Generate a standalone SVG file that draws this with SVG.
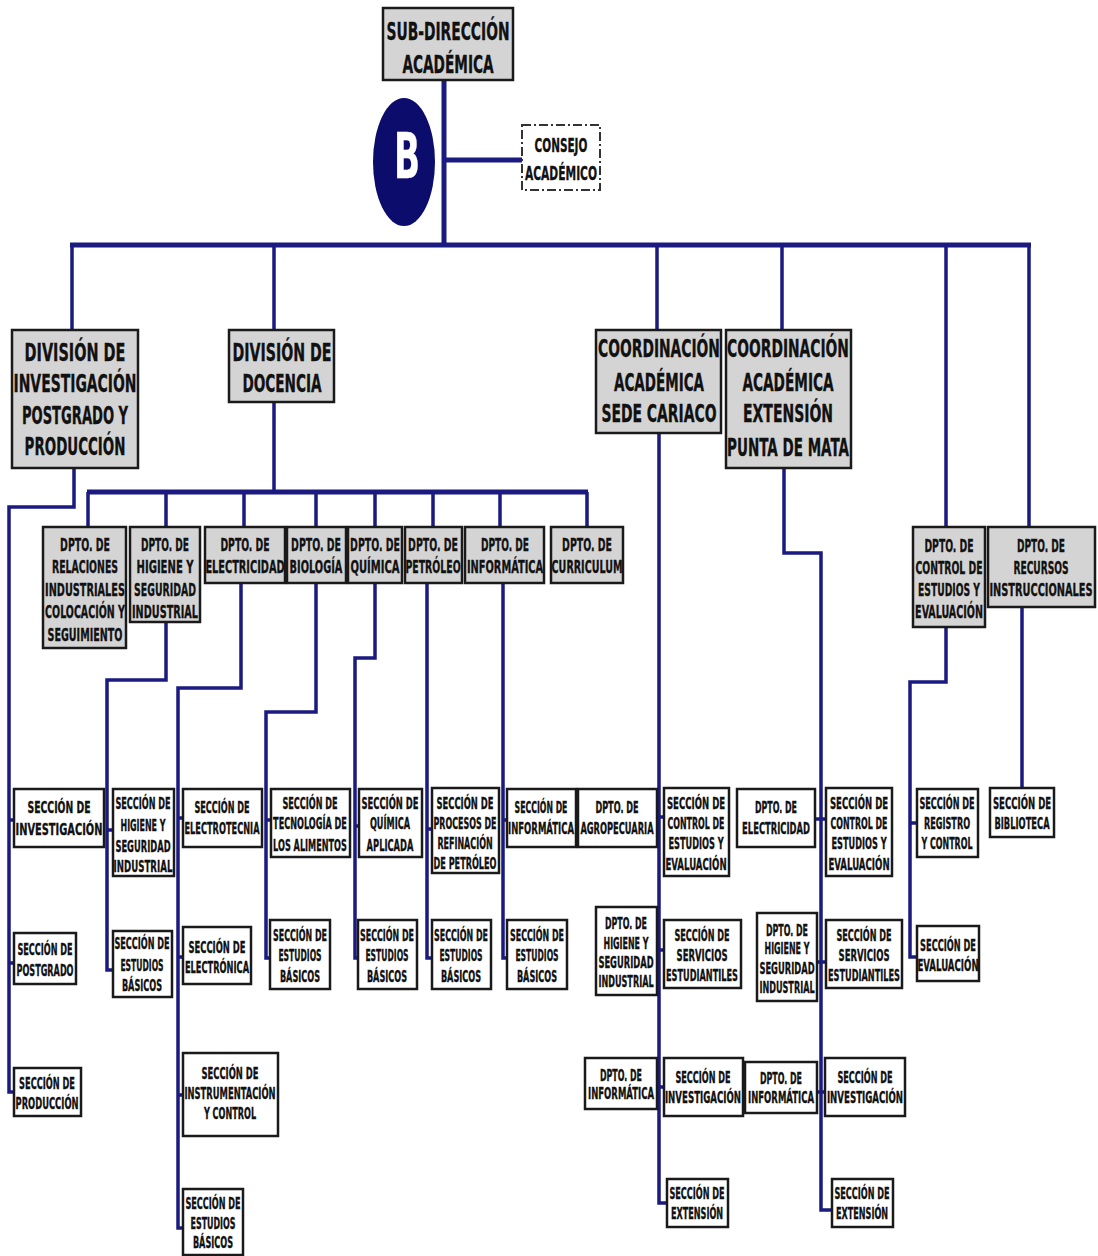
<svg xmlns="http://www.w3.org/2000/svg" width="1098" height="1256" viewBox="0 0 1098 1256">
<style>
text{font-family:"DejaVu Sans Condensed","DejaVu Sans",sans-serif;font-weight:bold;fill:#111;stroke:#111;stroke-width:0.35;text-anchor:middle;font-stretch:condensed}
.hd{fill:#d4d4d4;stroke:#1a1a1a;stroke-width:2.5}
.sc{fill:#fff;stroke:#1a1a1a;stroke-width:2.5}
.cs{fill:#fff;stroke:#333;stroke-width:2;stroke-dasharray:9 3 2 3}
.t1{font-size:24px}
.t2{font-size:18px}
.t3{font-size:16.5px}
.ln{fill:none;stroke:#1a1a80;stroke-width:3.5}
.bus{fill:none;stroke:#1a1a80;stroke-width:5}
</style>
<rect width="1098" height="1256" fill="#fff"/>
<g id="connectors">
<path class="bus" d="M444 80V245M445 160H522M70 245H1031M87 492H588"/>
<path class="ln" d="M72 245V330M274 245V330M657 245V330M782 245V330M946 245V527M1029 245V527"/>
<path class="ln" d="M74 468V507H9V1092H14M9 820H14M9 963H14"/>
<path class="ln" d="M274 402V492M88 492V527M166 492V527M244 492V527M316 492V527M375 492V527M433 492V527M500 492V527M587 492V527"/>
<path class="ln" d="M166 622V680H107V970H113M107 830H113"/>
<path class="ln" d="M241 583V688H178V1228H183M178 818H183M178 957H183M178 1095H183"/>
<path class="ln" d="M316 583V712H266V958H270M266 820H271"/>
<path class="ln" d="M375 583V658H355V958H358M355 826H359"/>
<path class="ln" d="M427 583V958H432M427 829H432"/>
<path class="ln" d="M503 583V958H507M503 820H507"/>
<path class="ln" d="M659 433V1203H667M657 817H664M657 950H664M657 1087H664"/>
<path class="ln" d="M784 468V553H821V1210H832M815 819H826M817 962H826M817 1092H825"/>
<path class="ln" d="M946 627V682H910V957H917M910 823H917"/>
<path class="ln" d="M1022 607V788"/>
</g>
<g id="sub-direccion"><rect class="hd" x="383" y="8" width="130" height="72"/><g transform="translate(448 0) scale(.6 1)"><text class="t1" y="40" textLength="205" lengthAdjust="spacingAndGlyphs">SUB-DIRECCIÓN</text><text class="t1" y="73" textLength="152" lengthAdjust="spacingAndGlyphs">ACADÉMICA</text></g></g>
<g id="logo-b"><ellipse cx="404" cy="162" rx="31" ry="64" fill="#0c0c6c"/><text transform="translate(407 178) scale(.5 1)" style="font-size:62px;fill:#fff;stroke:#fff" textLength="52" lengthAdjust="spacingAndGlyphs">B</text></g>
<g id="consejo"><rect class="cs" x="522" y="125" width="78" height="65"/><g transform="translate(561 0) scale(.6 1)"><text y="152" style="font-size:20px" textLength="88" lengthAdjust="spacingAndGlyphs">CONSEJO</text><text y="180" style="font-size:20px" textLength="120" lengthAdjust="spacingAndGlyphs">ACADÉMICO</text></g></g>
<g id="div-inv"><rect class="hd" x="12" y="330" width="126" height="138"/><g transform="translate(75 0) scale(.6 1)"><text class="t1" y="361" textLength="168" lengthAdjust="spacingAndGlyphs">DIVISIÓN DE</text><text class="t1" y="392" textLength="205" lengthAdjust="spacingAndGlyphs">INVESTIGACIÓN</text><text class="t1" y="424" textLength="177" lengthAdjust="spacingAndGlyphs">POSTGRADO Y</text><text class="t1" y="455" textLength="168" lengthAdjust="spacingAndGlyphs">PRODUCCIÓN</text></g></g>
<g id="div-doc"><rect class="hd" x="229" y="330" width="105" height="72"/><g transform="translate(282 0) scale(.6 1)"><text class="t1" y="361" textLength="165" lengthAdjust="spacingAndGlyphs">DIVISIÓN DE</text><text class="t1" y="392" textLength="132" lengthAdjust="spacingAndGlyphs">DOCENCIA</text></g></g>
<g id="coord-cariaco"><rect class="hd" x="596" y="330" width="125" height="103"/><g transform="translate(659 0) scale(.6 1)"><text class="t1" y="357" textLength="203" lengthAdjust="spacingAndGlyphs">COORDINACIÓN</text><text class="t1" y="391" textLength="150" lengthAdjust="spacingAndGlyphs">ACADÉMICA</text><text class="t1" y="422" textLength="192" lengthAdjust="spacingAndGlyphs">SEDE CARIACO</text></g></g>
<g id="coord-pm"><rect class="hd" x="726" y="330" width="125" height="138"/><g transform="translate(788 0) scale(.6 1)"><text class="t1" y="357" textLength="203" lengthAdjust="spacingAndGlyphs">COORDINACIÓN</text><text class="t1" y="391" textLength="152" lengthAdjust="spacingAndGlyphs">ACADÉMICA</text><text class="t1" y="422" textLength="150" lengthAdjust="spacingAndGlyphs">EXTENSIÓN</text><text class="t1" y="456" textLength="203" lengthAdjust="spacingAndGlyphs">PUNTA DE MATA</text></g></g>
<g id="dpto-relaciones"><rect class="hd" x="43" y="527" width="83" height="121"/><g transform="translate(85 0) scale(.6 1)"><text class="t2" y="551" textLength="83" lengthAdjust="spacingAndGlyphs">DPTO. DE</text><text class="t2" y="573" textLength="110" lengthAdjust="spacingAndGlyphs">RELACIONES</text><text class="t2" y="596" textLength="133" lengthAdjust="spacingAndGlyphs">INDUSTRIALES</text><text class="t2" y="618" textLength="133" lengthAdjust="spacingAndGlyphs">COLOCACIÓN Y</text><text class="t2" y="641" textLength="125" lengthAdjust="spacingAndGlyphs">SEGUIMIENTO</text></g></g>
<g id="dpto-higiene"><rect class="hd" x="130" y="527" width="70" height="95"/><g transform="translate(165 0) scale(.6 1)"><text class="t2" y="551" textLength="80" lengthAdjust="spacingAndGlyphs">DPTO. DE</text><text class="t2" y="573" textLength="95" lengthAdjust="spacingAndGlyphs">HIGIENE Y</text><text class="t2" y="596" textLength="103" lengthAdjust="spacingAndGlyphs">SEGURIDAD</text><text class="t2" y="618" textLength="110" lengthAdjust="spacingAndGlyphs">INDUSTRIAL</text></g></g>
<g id="dpto-electricidad"><rect class="hd" x="205" y="527" width="80" height="56"/><g transform="translate(245 0) scale(.6 1)"><text class="t2" y="551" textLength="82" lengthAdjust="spacingAndGlyphs">DPTO. DE</text><text class="t2" y="573" textLength="132" lengthAdjust="spacingAndGlyphs">ELECTRICIDAD</text></g></g>
<g id="dpto-biologia"><rect class="hd" x="287" y="527" width="59" height="56"/><g transform="translate(316 0) scale(.6 1)"><text class="t2" y="551" textLength="83" lengthAdjust="spacingAndGlyphs">DPTO. DE</text><text class="t2" y="573" textLength="88" lengthAdjust="spacingAndGlyphs">BIOLOGÍA</text></g></g>
<g id="dpto-quimica"><rect class="hd" x="348" y="527" width="54" height="56"/><g transform="translate(375 0) scale(.6 1)"><text class="t2" y="551" textLength="83" lengthAdjust="spacingAndGlyphs">DPTO. DE</text><text class="t2" y="573" textLength="82" lengthAdjust="spacingAndGlyphs">QUÍMICA</text></g></g>
<g id="dpto-petroleo"><rect class="hd" x="405" y="527" width="57" height="56"/><g transform="translate(433 0) scale(.6 1)"><text class="t2" y="551" textLength="83" lengthAdjust="spacingAndGlyphs">DPTO. DE</text><text class="t2" y="573" textLength="92" lengthAdjust="spacingAndGlyphs">PETRÓLEO</text></g></g>
<g id="dpto-informatica"><rect class="hd" x="465" y="527" width="79" height="56"/><g transform="translate(505 0) scale(.6 1)"><text class="t2" y="551" textLength="80" lengthAdjust="spacingAndGlyphs">DPTO. DE</text><text class="t2" y="573" textLength="127" lengthAdjust="spacingAndGlyphs">INFORMÁTICA</text></g></g>
<g id="dpto-curriculum"><rect class="hd" x="551" y="527" width="72" height="56"/><g transform="translate(587 0) scale(.6 1)"><text class="t2" y="551" textLength="83" lengthAdjust="spacingAndGlyphs">DPTO. DE</text><text class="t2" y="573" textLength="118" lengthAdjust="spacingAndGlyphs">CURRICULUM</text></g></g>
<g id="dpto-control"><rect class="hd" x="913" y="527" width="72" height="100"/><g transform="translate(949 0) scale(.6 1)"><text class="t2" y="552" textLength="82" lengthAdjust="spacingAndGlyphs">DPTO. DE</text><text class="t2" y="574" textLength="112" lengthAdjust="spacingAndGlyphs">CONTROL DE</text><text class="t2" y="596" textLength="103" lengthAdjust="spacingAndGlyphs">ESTUDIOS Y</text><text class="t2" y="618" textLength="113" lengthAdjust="spacingAndGlyphs">EVALUACIÓN</text></g></g>
<g id="dpto-recursos"><rect class="hd" x="988" y="527" width="107" height="80"/><g transform="translate(1041 0) scale(.6 1)"><text class="t2" y="552" textLength="80" lengthAdjust="spacingAndGlyphs">DPTO. DE</text><text class="t2" y="574" textLength="92" lengthAdjust="spacingAndGlyphs">RECURSOS</text><text class="t2" y="596" textLength="172" lengthAdjust="spacingAndGlyphs">INSTRUCCIONALES</text></g></g>
<g id="sec-investigacion"><rect class="sc" x="14" y="789" width="90" height="58"/><g transform="translate(59 0) scale(.6 1)"><text class="t3" y="813" textLength="105" lengthAdjust="spacingAndGlyphs">SECCIÓN DE</text><text class="t3" y="835" textLength="145" lengthAdjust="spacingAndGlyphs">INVESTIGACIÓN</text></g></g>
<g id="sec-postgrado"><rect class="sc" x="14" y="933" width="62" height="51"/><g transform="translate(45 0) scale(.6 1)"><text class="t3" y="955" textLength="92" lengthAdjust="spacingAndGlyphs">SECCIÓN DE</text><text class="t3" y="976" textLength="95" lengthAdjust="spacingAndGlyphs">POSTGRADO</text></g></g>
<g id="sec-produccion"><rect class="sc" x="14" y="1068" width="67" height="48"/><g transform="translate(47 0) scale(.6 1)"><text class="t3" y="1089" textLength="93" lengthAdjust="spacingAndGlyphs">SECCIÓN DE</text><text class="t3" y="1109" textLength="105" lengthAdjust="spacingAndGlyphs">PRODUCCIÓN</text></g></g>
<g id="sec-higiene"><rect class="sc" x="113" y="789" width="61" height="87"/><g transform="translate(143 0) scale(.6 1)"><text class="t3" y="809" textLength="92" lengthAdjust="spacingAndGlyphs">SECCIÓN DE</text><text class="t3" y="831" textLength="75" lengthAdjust="spacingAndGlyphs">HIGIENE Y</text><text class="t3" y="852" textLength="92" lengthAdjust="spacingAndGlyphs">SEGURIDAD</text><text class="t3" y="872" textLength="98" lengthAdjust="spacingAndGlyphs">INDUSTRIAL</text></g></g>
<g id="sec-basicos-higiene"><rect class="sc" x="113" y="931" width="59" height="66"/><g transform="translate(142 0) scale(.6 1)"><text class="t3" y="949" textLength="92" lengthAdjust="spacingAndGlyphs">SECCIÓN DE</text><text class="t3" y="971" textLength="72" lengthAdjust="spacingAndGlyphs">ESTUDIOS</text><text class="t3" y="991" textLength="67" lengthAdjust="spacingAndGlyphs">BÁSICOS</text></g></g>
<g id="sec-electrotecnia"><rect class="sc" x="183" y="789" width="79" height="58"/><g transform="translate(222 0) scale(.6 1)"><text class="t3" y="813" textLength="92" lengthAdjust="spacingAndGlyphs">SECCIÓN DE</text><text class="t3" y="834" textLength="125" lengthAdjust="spacingAndGlyphs">ELECTROTECNIA</text></g></g>
<g id="sec-electronica"><rect class="sc" x="183" y="927" width="68" height="57"/><g transform="translate(217 0) scale(.6 1)"><text class="t3" y="953" textLength="95" lengthAdjust="spacingAndGlyphs">SECCIÓN DE</text><text class="t3" y="973" textLength="107" lengthAdjust="spacingAndGlyphs">ELECTRÓNICA</text></g></g>
<g id="sec-instrumentacion"><rect class="sc" x="183" y="1053" width="95" height="83"/><g transform="translate(230 0) scale(.6 1)"><text class="t3" y="1079" textLength="95" lengthAdjust="spacingAndGlyphs">SECCIÓN DE</text><text class="t3" y="1099" textLength="152" lengthAdjust="spacingAndGlyphs">INSTRUMENTACIÓN</text><text class="t3" y="1119" textLength="87" lengthAdjust="spacingAndGlyphs">Y CONTROL</text></g></g>
<g id="sec-basicos-electricidad"><rect class="sc" x="183" y="1189" width="60" height="66"/><g transform="translate(213 0) scale(.6 1)"><text class="t3" y="1209" textLength="92" lengthAdjust="spacingAndGlyphs">SECCIÓN DE</text><text class="t3" y="1229" textLength="75" lengthAdjust="spacingAndGlyphs">ESTUDIOS</text><text class="t3" y="1248" textLength="67" lengthAdjust="spacingAndGlyphs">BÁSICOS</text></g></g>
<g id="sec-alimentos"><rect class="sc" x="271" y="789" width="79" height="68"/><g transform="translate(310 0) scale(.6 1)"><text class="t3" y="809" textLength="92" lengthAdjust="spacingAndGlyphs">SECCIÓN DE</text><text class="t3" y="829" textLength="123" lengthAdjust="spacingAndGlyphs">TECNOLOGÍA DE</text><text class="t3" y="851" textLength="123" lengthAdjust="spacingAndGlyphs">LOS ALIMENTOS</text></g></g>
<g id="sec-basicos-biologia"><rect class="sc" x="270" y="920" width="60" height="69"/><g transform="translate(300 0) scale(.6 1)"><text class="t3" y="941" textLength="90" lengthAdjust="spacingAndGlyphs">SECCIÓN DE</text><text class="t3" y="961" textLength="72" lengthAdjust="spacingAndGlyphs">ESTUDIOS</text><text class="t3" y="982" textLength="67" lengthAdjust="spacingAndGlyphs">BÁSICOS</text></g></g>
<g id="sec-quimica-aplicada"><rect class="sc" x="359" y="789" width="63" height="68"/><g transform="translate(390 0) scale(.6 1)"><text class="t3" y="809" textLength="95" lengthAdjust="spacingAndGlyphs">SECCIÓN DE</text><text class="t3" y="829" textLength="67" lengthAdjust="spacingAndGlyphs">QUÍMICA</text><text class="t3" y="851" textLength="78" lengthAdjust="spacingAndGlyphs">APLICADA</text></g></g>
<g id="sec-basicos-quimica"><rect class="sc" x="358" y="920" width="59" height="69"/><g transform="translate(387 0) scale(.6 1)"><text class="t3" y="941" textLength="90" lengthAdjust="spacingAndGlyphs">SECCIÓN DE</text><text class="t3" y="961" textLength="72" lengthAdjust="spacingAndGlyphs">ESTUDIOS</text><text class="t3" y="982" textLength="67" lengthAdjust="spacingAndGlyphs">BÁSICOS</text></g></g>
<g id="sec-refinacion"><rect class="sc" x="432" y="788" width="67" height="85"/><g transform="translate(465 0) scale(.6 1)"><text class="t3" y="809" textLength="95" lengthAdjust="spacingAndGlyphs">SECCIÓN DE</text><text class="t3" y="829" textLength="105" lengthAdjust="spacingAndGlyphs">PROCESOS DE</text><text class="t3" y="849" textLength="92" lengthAdjust="spacingAndGlyphs">REFINACIÓN</text><text class="t3" y="869" textLength="105" lengthAdjust="spacingAndGlyphs">DE PETRÓLEO</text></g></g>
<g id="sec-basicos-petroleo"><rect class="sc" x="432" y="920" width="59" height="69"/><g transform="translate(461 0) scale(.6 1)"><text class="t3" y="941" textLength="90" lengthAdjust="spacingAndGlyphs">SECCIÓN DE</text><text class="t3" y="961" textLength="72" lengthAdjust="spacingAndGlyphs">ESTUDIOS</text><text class="t3" y="982" textLength="67" lengthAdjust="spacingAndGlyphs">BÁSICOS</text></g></g>
<g id="sec-informatica"><rect class="sc" x="507" y="789" width="69" height="58"/><g transform="translate(541 0) scale(.6 1)"><text class="t3" y="813" textLength="88" lengthAdjust="spacingAndGlyphs">SECCIÓN DE</text><text class="t3" y="834" textLength="110" lengthAdjust="spacingAndGlyphs">INFORMÁTICA</text></g></g>
<g id="sec-basicos-informatica"><rect class="sc" x="507" y="920" width="60" height="69"/><g transform="translate(537 0) scale(.6 1)"><text class="t3" y="941" textLength="90" lengthAdjust="spacingAndGlyphs">SECCIÓN DE</text><text class="t3" y="961" textLength="72" lengthAdjust="spacingAndGlyphs">ESTUDIOS</text><text class="t3" y="982" textLength="67" lengthAdjust="spacingAndGlyphs">BÁSICOS</text></g></g>
<g id="car-agropecuaria"><rect class="sc" x="578" y="789" width="79" height="58"/><g transform="translate(617 0) scale(.6 1)"><text class="t3" y="813" textLength="72" lengthAdjust="spacingAndGlyphs">DPTO. DE</text><text class="t3" y="834" textLength="122" lengthAdjust="spacingAndGlyphs">AGROPECUARIA</text></g></g>
<g id="car-control"><rect class="sc" x="664" y="788" width="65" height="88"/><g transform="translate(696 0) scale(.6 1)"><text class="t3" y="809" textLength="97" lengthAdjust="spacingAndGlyphs">SECCIÓN DE</text><text class="t3" y="829" textLength="95" lengthAdjust="spacingAndGlyphs">CONTROL DE</text><text class="t3" y="849" textLength="92" lengthAdjust="spacingAndGlyphs">ESTUDIOS Y</text><text class="t3" y="870" textLength="102" lengthAdjust="spacingAndGlyphs">EVALUACIÓN</text></g></g>
<g id="car-higiene"><rect class="sc" x="596" y="907" width="61" height="88"/><g transform="translate(626 0) scale(.6 1)"><text class="t3" y="929" textLength="70" lengthAdjust="spacingAndGlyphs">DPTO. DE</text><text class="t3" y="949" textLength="75" lengthAdjust="spacingAndGlyphs">HIGIENE Y</text><text class="t3" y="968" textLength="92" lengthAdjust="spacingAndGlyphs">SEGURIDAD</text><text class="t3" y="987" textLength="92" lengthAdjust="spacingAndGlyphs">INDUSTRIAL</text></g></g>
<g id="car-servicios"><rect class="sc" x="664" y="920" width="77" height="68"/><g transform="translate(702 0) scale(.6 1)"><text class="t3" y="941" textLength="92" lengthAdjust="spacingAndGlyphs">SECCIÓN DE</text><text class="t3" y="961" textLength="85" lengthAdjust="spacingAndGlyphs">SERVICIOS</text><text class="t3" y="981" textLength="120" lengthAdjust="spacingAndGlyphs">ESTUDIANTILES</text></g></g>
<g id="car-informatica"><rect class="sc" x="585" y="1058" width="72" height="51"/><g transform="translate(621 0) scale(.6 1)"><text class="t3" y="1081" textLength="70" lengthAdjust="spacingAndGlyphs">DPTO. DE</text><text class="t3" y="1099" textLength="110" lengthAdjust="spacingAndGlyphs">INFORMÁTICA</text></g></g>
<g id="car-investigacion"><rect class="sc" x="664" y="1058" width="79" height="58"/><g transform="translate(703 0) scale(.6 1)"><text class="t3" y="1083" textLength="92" lengthAdjust="spacingAndGlyphs">SECCIÓN DE</text><text class="t3" y="1103" textLength="127" lengthAdjust="spacingAndGlyphs">INVESTIGACIÓN</text></g></g>
<g id="car-extension"><rect class="sc" x="667" y="1179" width="61" height="48"/><g transform="translate(697 0) scale(.6 1)"><text class="t3" y="1199" textLength="92" lengthAdjust="spacingAndGlyphs">SECCIÓN DE</text><text class="t3" y="1219" textLength="87" lengthAdjust="spacingAndGlyphs">EXTENSIÓN</text></g></g>
<g id="pm-electricidad"><rect class="sc" x="737" y="789" width="78" height="58"/><g transform="translate(776 0) scale(.6 1)"><text class="t3" y="813" textLength="70" lengthAdjust="spacingAndGlyphs">DPTO. DE</text><text class="t3" y="834" textLength="113" lengthAdjust="spacingAndGlyphs">ELECTRICIDAD</text></g></g>
<g id="pm-control"><rect class="sc" x="826" y="788" width="66" height="88"/><g transform="translate(859 0) scale(.6 1)"><text class="t3" y="809" textLength="97" lengthAdjust="spacingAndGlyphs">SECCIÓN DE</text><text class="t3" y="829" textLength="95" lengthAdjust="spacingAndGlyphs">CONTROL DE</text><text class="t3" y="849" textLength="92" lengthAdjust="spacingAndGlyphs">ESTUDIOS Y</text><text class="t3" y="870" textLength="102" lengthAdjust="spacingAndGlyphs">EVALUACIÓN</text></g></g>
<g id="pm-higiene"><rect class="sc" x="757" y="913" width="60" height="88"/><g transform="translate(787 0) scale(.6 1)"><text class="t3" y="936" textLength="70" lengthAdjust="spacingAndGlyphs">DPTO. DE</text><text class="t3" y="954" textLength="75" lengthAdjust="spacingAndGlyphs">HIGIENE Y</text><text class="t3" y="974" textLength="92" lengthAdjust="spacingAndGlyphs">SEGURIDAD</text><text class="t3" y="993" textLength="92" lengthAdjust="spacingAndGlyphs">INDUSTRIAL</text></g></g>
<g id="pm-servicios"><rect class="sc" x="826" y="920" width="76" height="68"/><g transform="translate(864 0) scale(.6 1)"><text class="t3" y="941" textLength="92" lengthAdjust="spacingAndGlyphs">SECCIÓN DE</text><text class="t3" y="961" textLength="85" lengthAdjust="spacingAndGlyphs">SERVICIOS</text><text class="t3" y="981" textLength="120" lengthAdjust="spacingAndGlyphs">ESTUDIANTILES</text></g></g>
<g id="pm-informatica"><rect class="sc" x="745" y="1062" width="72" height="51"/><g transform="translate(781 0) scale(.6 1)"><text class="t3" y="1084" textLength="70" lengthAdjust="spacingAndGlyphs">DPTO. DE</text><text class="t3" y="1103" textLength="110" lengthAdjust="spacingAndGlyphs">INFORMÁTICA</text></g></g>
<g id="pm-investigacion"><rect class="sc" x="825" y="1058" width="80" height="58"/><g transform="translate(865 0) scale(.6 1)"><text class="t3" y="1083" textLength="92" lengthAdjust="spacingAndGlyphs">SECCIÓN DE</text><text class="t3" y="1103" textLength="127" lengthAdjust="spacingAndGlyphs">INVESTIGACIÓN</text></g></g>
<g id="pm-extension"><rect class="sc" x="832" y="1179" width="61" height="48"/><g transform="translate(862 0) scale(.6 1)"><text class="t3" y="1199" textLength="92" lengthAdjust="spacingAndGlyphs">SECCIÓN DE</text><text class="t3" y="1219" textLength="87" lengthAdjust="spacingAndGlyphs">EXTENSIÓN</text></g></g>
<g id="sec-registro"><rect class="sc" x="917" y="789" width="61" height="68"/><g transform="translate(947 0) scale(.6 1)"><text class="t3" y="809" textLength="92" lengthAdjust="spacingAndGlyphs">SECCIÓN DE</text><text class="t3" y="829" textLength="77" lengthAdjust="spacingAndGlyphs">REGISTRO</text><text class="t3" y="849" textLength="85" lengthAdjust="spacingAndGlyphs">Y CONTROL</text></g></g>
<g id="sec-evaluacion"><rect class="sc" x="917" y="926" width="62" height="55"/><g transform="translate(948 0) scale(.6 1)"><text class="t3" y="951" textLength="93" lengthAdjust="spacingAndGlyphs">SECCIÓN DE</text><text class="t3" y="971" textLength="102" lengthAdjust="spacingAndGlyphs">EVALUACIÓN</text></g></g>
<g id="sec-biblioteca"><rect class="sc" x="990" y="788" width="64" height="49"/><g transform="translate(1022 0) scale(.6 1)"><text class="t3" y="809" textLength="97" lengthAdjust="spacingAndGlyphs">SECCIÓN DE</text><text class="t3" y="829" textLength="92" lengthAdjust="spacingAndGlyphs">BIBLIOTECA</text></g></g>
</svg>
